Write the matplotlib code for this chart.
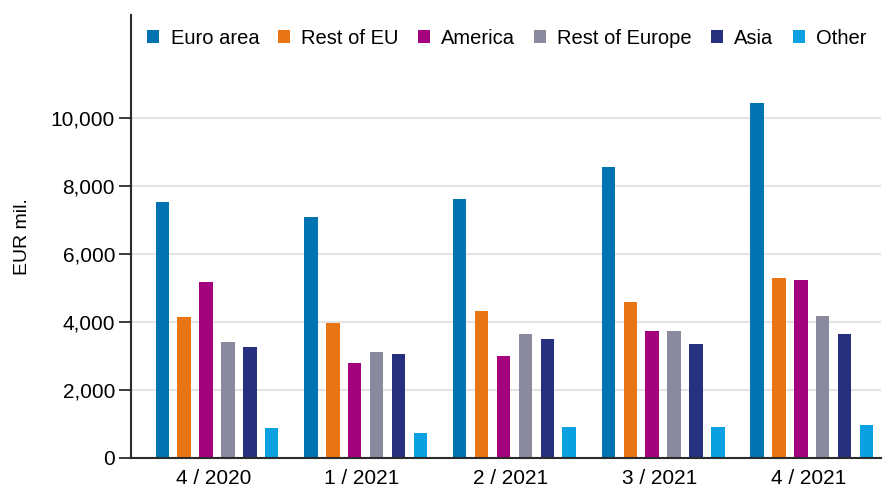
import numpy as np
import matplotlib.pyplot as plt
from matplotlib.ticker import FuncFormatter

quarters = ['4 / 2020', '1 / 2021', '2 / 2021', '3 / 2021', '4 / 2021']
regions = ['Euro area', 'Rest of EU', 'America', 'Rest of Europe', 'Asia', 'Other']

euro_area = [7535, 7095, 7605, 8565, 10435]
rest_of_eu = [4150, 3955, 4325, 4590, 5280]
america = [5160, 2795, 2990, 3725, 5230]
rest_of_europe = [3395, 3110, 3640, 3725, 4170]
asia = [3265, 3050, 3490, 3335, 3630]
other = [860, 730, 890, 905, 950]

series = [euro_area, rest_of_eu, america, rest_of_europe, asia, other]
colors = ['#0073b0', '#e87511', '#a5027d', '#8a8a9f', '#26307f', '#0aa1e2']

plt.rcParams['font.family'] = ['Liberation Sans', 'DejaVu Sans']

fig = plt.figure(figsize=(8.83, 4.88), dpi=100)
ax = fig.add_axes([131 / 883, 30.5 / 488, 750 / 883, 442.5 / 488])

x = np.arange(len(quarters))
step = 0.1473
width = 0.09
for i, (vals, col, name) in enumerate(zip(series, colors, regions)):
    ax.bar(x + (i - 2.5) * step, vals, width=width, color=col, label=name, zorder=3)

ax.set_xlim(-0.578, 4.465)
ax.set_ylim(0, 13030)
ax.set_yticks([0, 2000, 4000, 6000, 8000, 10000])
ax.yaxis.set_major_formatter(FuncFormatter(lambda v, p: f'{int(v):,}'))
ax.set_xticks(x - 0.025)
ax.set_xticklabels(quarters)

ax.grid(axis='y', color='#e3e3e3', linewidth=1.5, zorder=0)
for s in ['top', 'right']:
    ax.spines[s].set_visible(False)
for s in ['left', 'bottom']:
    ax.spines[s].set_color('#2b2b2b')
    ax.spines[s].set_linewidth(1.5)
ax.spines['bottom'].set_zorder(4)

ax.tick_params(axis='y', length=8.5, width=1.3, color='#2b2b2b', labelsize=15, pad=3)
ax.tick_params(axis='x', length=0, labelsize=15, pad=8)
ax.set_ylabel('EUR mil.', fontsize=14, labelpad=14)

ax.legend(loc='upper left', bbox_to_anchor=(-0.005, 1.014), ncol=6, frameon=False,
          fontsize=14.5, handlelength=0.6, handleheight=0.6, handletextpad=0.55,
          columnspacing=0.95, borderaxespad=0.6)

fig.savefig('out.png', dpi=100)
